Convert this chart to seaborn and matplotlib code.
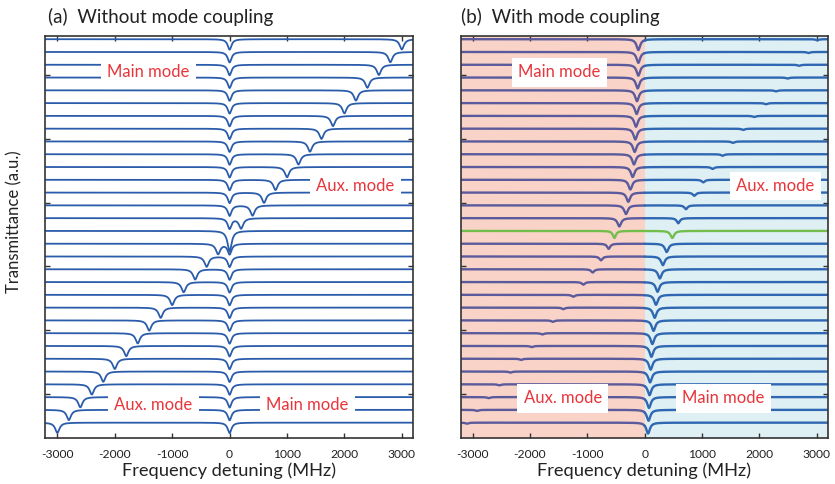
import numpy as np
import pandas as pd
import matplotlib
matplotlib.use("Agg")
import matplotlib.pyplot as plt
import seaborn as sns

sns.set_theme(style="white")
plt.rcParams['font.family'] = ['Lato', 'DejaVu Sans']
plt.rcParams['axes.unicode_minus'] = False

# ---------------- data ----------------
# trace index 0 = bottom trace, 30 = top trace
# panel (a): main mode fixed at 0 MHz, aux mode swept
main_a = [0] * 31
aux_a = [-3000, -2800, -2600, -2400, -2200, -2000, -1800, -1600, -1400, -1200,
         -1000, -800, -600, -400, -200, 0, 200, 400, 600, 800,
         1000, 1200, 1400, 1600, 1800, 2000, 2200, 2400, 2600, 2800, 3000]

# panel (b): strong (main-like) dip and weak (aux-like) dip positions, MHz
strong_b = [60, 68, 76, 85, 95, 105, 118, 135, 155, 175,
            198, 225, 265, 318, 384, 483, -442, -326, -285, -250,
            -209, -186, -174, -163, -151, -140, -134, -122, -110, -110, -110]
weak_b = [-3100, -2924, -2721, -2535, -2343, -2156, -1970, -1785, -1600, -1419,
          -1245, -1070, -907, -762, -628, -528, 587, 721, 866, 1023,
          1186, 1360, 1540, 1720, 1913, 2117, 2292, 2495, 2695, 2860, 3012]
strong_depth_b = [0.85, 0.85, 0.85, 0.85, 0.85, 0.85, 0.85, 0.85, 0.82, 0.8,
                  0.78, 0.76, 0.72, 0.68, 0.65, 0.55, 0.65, 0.68, 0.72, 0.76,
                  0.78, 0.8, 0.82, 0.85, 0.85, 0.85, 0.85, 0.85, 0.85, 0.85, 0.85]
weak_depth_b = [0.08, 0.08, 0.08, 0.08, 0.08, 0.09, 0.09, 0.1, 0.11, 0.12,
                0.15, 0.2, 0.25, 0.3, 0.4, 0.55, 0.4, 0.3, 0.25, 0.2,
                0.15, 0.12, 0.11, 0.1, 0.09, 0.09, 0.08, 0.08, 0.08, 0.08, 0.08]
green_trace = 15

ytick_pos = [2.22, 7.22, 12.22, 17.22, 22.22, 27.22]
xtick_vals = [-3000, -2000, -1000, 0, 1000, 2000, 3000]

labels_a = [("Main mode", -1420, 27.4), ("Aux. mode", 2186, 18.5),
            ("Aux. mode", -1328, 1.38), ("Main mode", 1359, 1.38)]
labels_b = [("Main mode", -1489, 27.4), ("Aux. mode", 2277, 18.5),
            ("Aux. mode", -1427, 1.9), ("Main mode", 1373, 1.9)]

# ---------------- build curves ----------------
x = np.arange(-3200, 3201, 1.0)


def lor(x, x0, g):
    return g ** 2 / ((x - x0) ** 2 + g ** 2)


rows_a = []
for i in range(31):
    y = i - 0.82 * lor(x, main_a[i], 40) - 0.8 * lor(x, aux_a[i], 45)
    rows_a.append(pd.DataFrame({"x": x, "y": y, "trace": i}))
df_a = pd.concat(rows_a)

rows_b = []
for i in range(31):
    y = i - strong_depth_b[i] * lor(x, strong_b[i], 38) - weak_depth_b[i] * lor(x, weak_b[i], 32)
    left = x <= 0
    right = x >= 0
    if i == green_trace:
        rows_b.append(pd.DataFrame({"x": x, "y": y, "seg": 2 * i, "col": "G"}))
    else:
        rows_b.append(pd.DataFrame({"x": x[left], "y": y[left], "seg": 2 * i, "col": "L"}))
        rows_b.append(pd.DataFrame({"x": x[right], "y": y[right], "seg": 2 * i + 1, "col": "R"}))
df_b = pd.concat(rows_b)

# ---------------- figure ----------------
fig = plt.figure(figsize=(8.35, 4.84), dpi=100)
ax_a = fig.add_axes([45.3 / 835, 46 / 484, 368 / 835, 402 / 484])
ax_b = fig.add_axes([460.7 / 835, 46 / 484, 367.3 / 835, 402 / 484])
renderer = fig.canvas.get_renderer()


def fit_size(text, width_px, base=12.0, rotation=0):
    t = fig.text(0, 0, text, fontsize=base, rotation=rotation)
    bb = t.get_window_extent(renderer=renderer)
    w = bb.height if rotation else bb.width
    t.remove()
    return base * width_px / w


fs_title = fit_size("(a)  Without mode coupling", 224)
fs_xlabel = fit_size("Frequency detuning (MHz)", 213)
fs_ylabel = fit_size("Transmittance (a.u.)", 142, rotation=90)
fs_red = fit_size("Main mode", 82)
fs_tick = fit_size("-3000", 32.5)

sns.lineplot(data=df_a, x="x", y="y", units="trace", estimator=None, sort=False,
             color="#2a5cab", lw=1.3, ax=ax_a, legend=False)

ax_b.axvspan(-3300, 0, color="#f9d3c7", zorder=0, lw=0)
ax_b.axvspan(0, 3300, color="#def0f4", zorder=0, lw=0)
sns.lineplot(data=df_b, x="x", y="y", units="seg", hue="col", estimator=None, sort=False,
             palette={"L": "#5b5a9c", "R": "#2f67b2", "G": "#72bd4c"},
             lw=1.7, ax=ax_b, legend=False)

red = "#e8353b"
for ax, labs in [(ax_a, labels_a), (ax_b, labels_b)]:
    ax.set_xlim(-3210, 3200)
    ax.set_ylim(-1.2, 30.25)
    ax.set_xticks(xtick_vals)
    ax.set_xticklabels([str(v) for v in xtick_vals])
    ax.set_yticks(ytick_pos)
    ax.set_yticklabels([])
    ax.tick_params(axis="both", direction="in", top=True, right=True, length=3.5,
                   width=1.0, color="#333333", labelsize=fs_tick, labelcolor="#222222", pad=8,
                   bottom=True, left=True)
    for s in ax.spines.values():
        s.set_color("#333333")
        s.set_linewidth(1.2)
        s.set_visible(True)
    ax.set_xlabel("Frequency detuning (MHz)", fontsize=fs_xlabel, color="#222222", labelpad=1.5)
    ax.set_ylabel("")
    for txt, tx, ty in labs:
        ax.text(tx, ty, txt, color=red, fontsize=fs_red, ha="center", va="center", zorder=5,
                bbox=dict(boxstyle="square,pad=0.38", fc="white", ec="none"))

ax_a.set_ylabel("Transmittance (a.u.)", fontsize=fs_ylabel, color="#222222")
ax_a.yaxis.set_label_coords(-0.062, 0.537)

fig.text(48 / 835, 1 - 17 / 484, "(a)  Without mode coupling", fontsize=fs_title,
         color="#222222", ha="left", va="center")
fig.text(461 / 835, 1 - 17 / 484, "(b)  With mode coupling", fontsize=fs_title,
         color="#222222", ha="left", va="center")

fig.savefig("out.png", dpi=100)
